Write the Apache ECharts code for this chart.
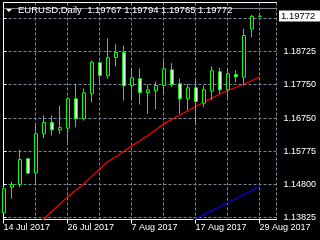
<!DOCTYPE html>
<html><head><meta charset="utf-8">
<script src="https://cdn.jsdelivr.net/npm/echarts@6/dist/echarts.min.js"></script>
<style>html,body{margin:0;padding:0;background:#000;overflow:hidden}#c{width:320px;height:240px}</style>
</head><body><div id="c"></div>
<script>
const symbolTitle = 'EURUSD,Daily';
const dates = ['14 Jul 2017','17 Jul 2017','18 Jul 2017','19 Jul 2017','20 Jul 2017','21 Jul 2017',
  '24 Jul 2017','25 Jul 2017','26 Jul 2017','27 Jul 2017','28 Jul 2017','31 Jul 2017',
  '1 Aug 2017','2 Aug 2017','3 Aug 2017','4 Aug 2017','7 Aug 2017','8 Aug 2017','9 Aug 2017',
  '10 Aug 2017','11 Aug 2017','14 Aug 2017','15 Aug 2017','16 Aug 2017','17 Aug 2017',
  '18 Aug 2017','21 Aug 2017','22 Aug 2017','23 Aug 2017','24 Aug 2017','25 Aug 2017',
  '28 Aug 2017','29 Aug 2017'];
const openP  = [1.13955,1.14712,1.14792,1.15552,1.15138,1.16291,1.16625,1.16409,1.16457,1.17326,1.16735,
  1.17474,1.18391,1.18006,1.18547,1.18695,1.17711,1.17918,1.17512,1.17563,1.17719,1.18184,1.17770,
  1.17326,1.17651,1.17196,1.17551,1.18125,1.17592,1.18045,1.17965,1.19390,1.19767];
const highP  = [1.14733,1.14881,1.15818,1.15575,1.16605,1.16832,1.16832,1.17128,1.17373,1.17770,1.17631,
  1.18459,1.18429,1.19109,1.18941,1.18902,1.18213,1.18222,1.17749,1.17838,1.18459,1.18379,1.17918,
  1.17770,1.17888,1.17719,1.18281,1.18243,1.18184,1.18163,1.19396,1.19810,1.19794];
const lowP   = [1.13934,1.14369,1.14712,1.15108,1.14783,1.16161,1.16241,1.16291,1.16043,1.16486,1.16684,
  1.17226,1.17787,1.17918,1.18281,1.17276,1.17276,1.17158,1.16883,1.17019,1.17474,1.17669,1.16883,
  1.16980,1.16557,1.17078,1.17297,1.17474,1.17356,1.17817,1.17719,1.19148,1.19765];
const closeP = [1.14665,1.14792,1.15531,1.15126,1.16291,1.16625,1.16409,1.16477,1.17326,1.16735,1.17504,
  1.18408,1.18015,1.18539,1.18695,1.17711,1.17947,1.17512,1.17592,1.17719,1.18213,1.17749,1.17326,
  1.17651,1.17246,1.17592,1.18154,1.17592,1.18065,1.17977,1.19198,1.19765,1.19772];
const maRed  = [null,null,null,null,1.13550,1.13772,1.13985,1.14201,1.14425,1.14615,1.14807,1.15026,
  1.15244,1.15466,1.15605,1.15771,1.15927,1.16075,1.16238,1.16404,1.16584,1.16711,1.16838,1.16968,
  1.17098,1.17217,1.17341,1.17459,1.17572,1.17660,1.17749,1.17861,1.17971];
const maBlue = [null,null,null,null,null,null,null,null,null,null,null,null,null,null,null,null,null,
  null,null,null,null,null,null,1.13651,1.13772,1.13893,1.14011,1.14133,1.14251,1.14372,1.14490,
  1.14612,1.14733];
const priceTicks = [1.13825,1.14800,1.15775,1.16750,1.17750,1.18725,1.19700];
const priceTickLabels = ['1.13825','1.14800','1.15775','1.16750','1.17750','1.18725',''];
const dateTickIdx = [0,8,16,24,32];

const font = '"Liberation Sans",Arial,sans-serif';
const fs = 9;
const last = dates.length - 1;
const yMin = 1.13757, yMax = 1.20174;
const xMax = 34.125;
const candleData = dates.map((d,i)=>[i, openP[i], closeP[i], lowP[i], highP[i]]);
const redData = maRed.map((v,i)=>[i, v]);
const blueData = maBlue.map((v,i)=>[i, v]);

const chart = echarts.init(document.getElementById('c'), null, {renderer:'canvas'});
chart.setOption({
  backgroundColor:'#000',
  animation:false,
  title:{text: symbolTitle + '  ' + [openP[last],highP[last],lowP[last],closeP[last]].map(v=>v.toFixed(5)).join(' '),
    left:18, top:5, padding:0,
    textStyle:{color:'#fff', fontSize:9.5, fontWeight:'normal', fontFamily:font}},
  graphic:[{type:'polygon', shape:{points:[[6,9],[12,9],[9,12]]}, style:{fill:'#fff'}, z:10}],
  grid:{left:3.5, top:2.5, width:273, height:217, containLabel:false, outerBoundsMode:'none'},
  xAxis:[
    {type:'value', position:'bottom', min:0, max:xMax, interval:8,
     axisLine:{show:true, lineStyle:{color:'#fff', width:1}},
     axisTick:{show:true, length:4, customValues:dateTickIdx, lineStyle:{color:'#fff'}},
     axisLabel:{show:true, customValues:dateTickIdx, formatter:v=>dates[Math.round(v)] || '',
       color:'#fff', fontSize:fs, fontFamily:font, align:'left', margin:4},
     splitLine:{show:false}},
    {type:'value', position:'top', min:0, max:xMax, interval:4,
     axisLine:{show:true, lineStyle:{color:'#fff', width:1}},
     axisTick:{show:false}, axisLabel:{show:false},
     splitLine:{show:true, lineStyle:{color:'#778899', width:1, type:[3,2]}}}
  ],
  yAxis:[
    {type:'value', position:'right', min:yMin, max:yMax, scale:true,
     axisLine:{show:true, lineStyle:{color:'#fff', width:1}},
     axisTick:{show:true, length:3, customValues:priceTicks, lineStyle:{color:'#fff'}},
     axisLabel:{show:true, customValues:priceTicks, color:'#fff', fontSize:fs, fontFamily:font, margin:7,
       formatter:v=>{const k=priceTicks.findIndex(t=>Math.abs(t-v)<1e-7); return k>=0?priceTickLabels[k]:'';}},
     splitLine:{show:true, lineStyle:{color:'#778899', width:1, type:[3,2]}}},
    {type:'value', position:'left', min:yMin, max:yMax, scale:true,
     axisLine:{show:true, lineStyle:{color:'#fff', width:1}},
     axisTick:{show:false}, axisLabel:{show:false}, splitLine:{show:false}},
    {type:'value', position:'right', offset:0, min:yMin, max:yMax, scale:true, z:5,
     axisLine:{show:false}, axisTick:{show:false}, splitLine:{show:false},
     axisLabel:{show:true, customValues:[closeP[last]], formatter:v=>v.toFixed(5), margin:2.5,
       color:'#000', backgroundColor:'#fff', padding:[1,8,0,2], lineHeight:10, fontSize:9.5, fontFamily:font}}
  ],
  series:[
    {type:'line', data:redData, xAxisIndex:0, yAxisIndex:0, symbol:'none', showSymbol:false,
     lineStyle:{color:'#ff0000', width:1.2}, z:3},
    {type:'line', data:blueData, xAxisIndex:0, yAxisIndex:0, symbol:'none', showSymbol:false,
     lineStyle:{color:'#0000ff', width:1.2}, z:3},
    {type:'candlestick', data:candleData, xAxisIndex:0, yAxisIndex:0,
     encode:{x:0, y:[1,2,3,4]}, barWidth:3.5, z:4,
     itemStyle:{color:'#000000', color0:'#ffffff', borderColor:'#00ff00', borderColor0:'#00ff00', borderWidth:1},
     markLine:{silent:true, symbol:['none','none'], animation:false,
       lineStyle:{color:'#778899', type:'solid', width:1},
       label:{show:false},
       data:[{yAxis:closeP[last]}]}}
  ]
});
</script></body></html>
